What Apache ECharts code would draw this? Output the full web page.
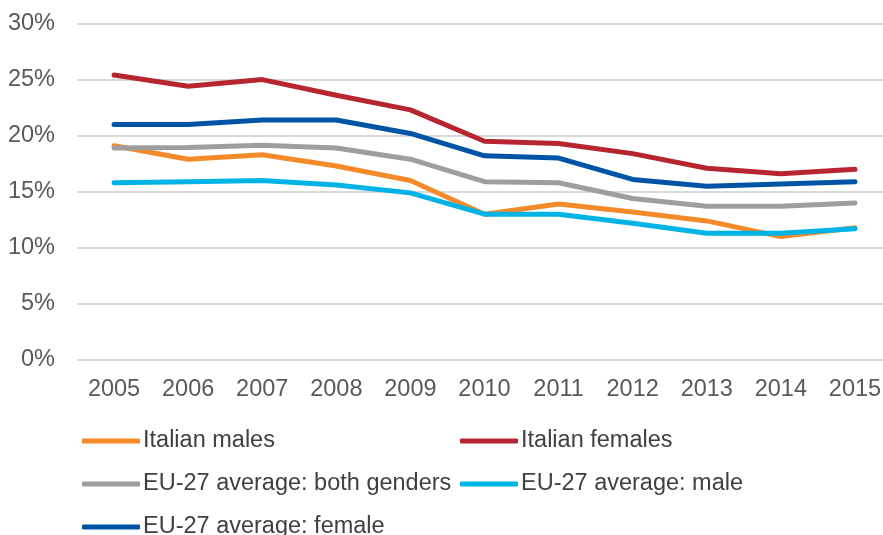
<!DOCTYPE html>
<html>
<head>
<meta charset="utf-8">
<script src="https://cdn.jsdelivr.net/npm/echarts@6/dist/echarts.min.js"></script>
<style>
  html, body { margin: 0; padding: 0; background: #fff; }
  #chart { width: 883px; height: 535px; }
</style>
</head>
<body>
<div id="chart"></div>
<script>
const years = ['2005', '2006', '2007', '2008', '2009', '2010', '2011', '2012', '2013', '2014', '2015'];
const italianMales = [19.1, 17.9, 18.3, 17.3, 16.0, 13.0, 13.9, 13.2, 12.4, 11.0, 11.8];
const italianFemales = [25.4, 24.4, 25.0, 23.6, 22.3, 19.5, 19.3, 18.4, 17.1, 16.6, 17.0];
const euBoth = [18.9, 18.95, 19.15, 18.9, 17.9, 15.9, 15.8, 14.4, 13.7, 13.7, 14.0];
const euMale = [15.8, 15.9, 16.0, 15.6, 14.9, 13.0, 13.0, 12.2, 11.3, 11.3, 11.7];
const euFemale = [21.0, 21.0, 21.4, 21.4, 20.2, 18.2, 18.0, 16.1, 15.5, 15.7, 15.9];

const seriesNames = ['Italian males', 'Italian females', 'EU-27 average: both genders', 'EU-27 average: male', 'EU-27 average: female'];
const seriesColors = ['#F58A2A', '#B72630', '#9E9E9E', '#00B3E6', '#0054A6'];
const seriesData = [italianMales, italianFemales, euBoth, euMale, euFemale];

const font = '"Liberation Sans", Arial, sans-serif';
const chart = echarts.init(document.getElementById('chart'), null, { renderer: 'canvas' });

// one legend per entry so the columns sit like in the source
const legendPos = [
  { left: 82, top: 429 },
  { left: 460, top: 429 },
  { left: 82, top: 472 },
  { left: 460, top: 472 },
  { left: 82, top: 515 }
];

chart.setOption({
  backgroundColor: '#ffffff',
  animation: false,
  grid: { left: 77, width: 815, top: 23.5, bottom: 175, outerBoundsMode: 'none', containLabel: false },
  legend: seriesNames.map((name, i) => ({
    data: [name],
    left: legendPos[i].left,
    top: legendPos[i].top,
    icon: 'roundRect',
    itemWidth: 58,
    itemHeight: 5,
    itemGap: 0,
    padding: 0,
    selectedMode: false,
    textStyle: { fontFamily: font, fontSize: 23.5, color: '#404040', padding: [0, 0, 0, -2] }
  })),
  xAxis: {
    type: 'category',
    data: years,
    boundaryGap: true,
    axisLine: { show: false },
    axisTick: { show: false },
    axisLabel: { fontFamily: font, fontSize: 23.5, color: '#595959', margin: 18 }
  },
  yAxis: {
    type: 'value',
    min: 0,
    max: 30,
    interval: 5,
    axisLine: { show: false },
    axisTick: { show: false },
    splitLine: { lineStyle: { color: '#D9D9D9', width: 2 } },
    axisLabel: { fontFamily: font, fontSize: 23.5, color: '#595959', margin: 22, formatter: '{value}%' }
  },
  series: seriesNames.map((name, i) => ({
    name: name,
    type: 'line',
    data: seriesData[i],
    symbol: 'none',
    color: seriesColors[i],
    lineStyle: { width: 5, color: seriesColors[i], cap: 'round', join: 'round' }
  }))
});
</script>
</body>
</html>
